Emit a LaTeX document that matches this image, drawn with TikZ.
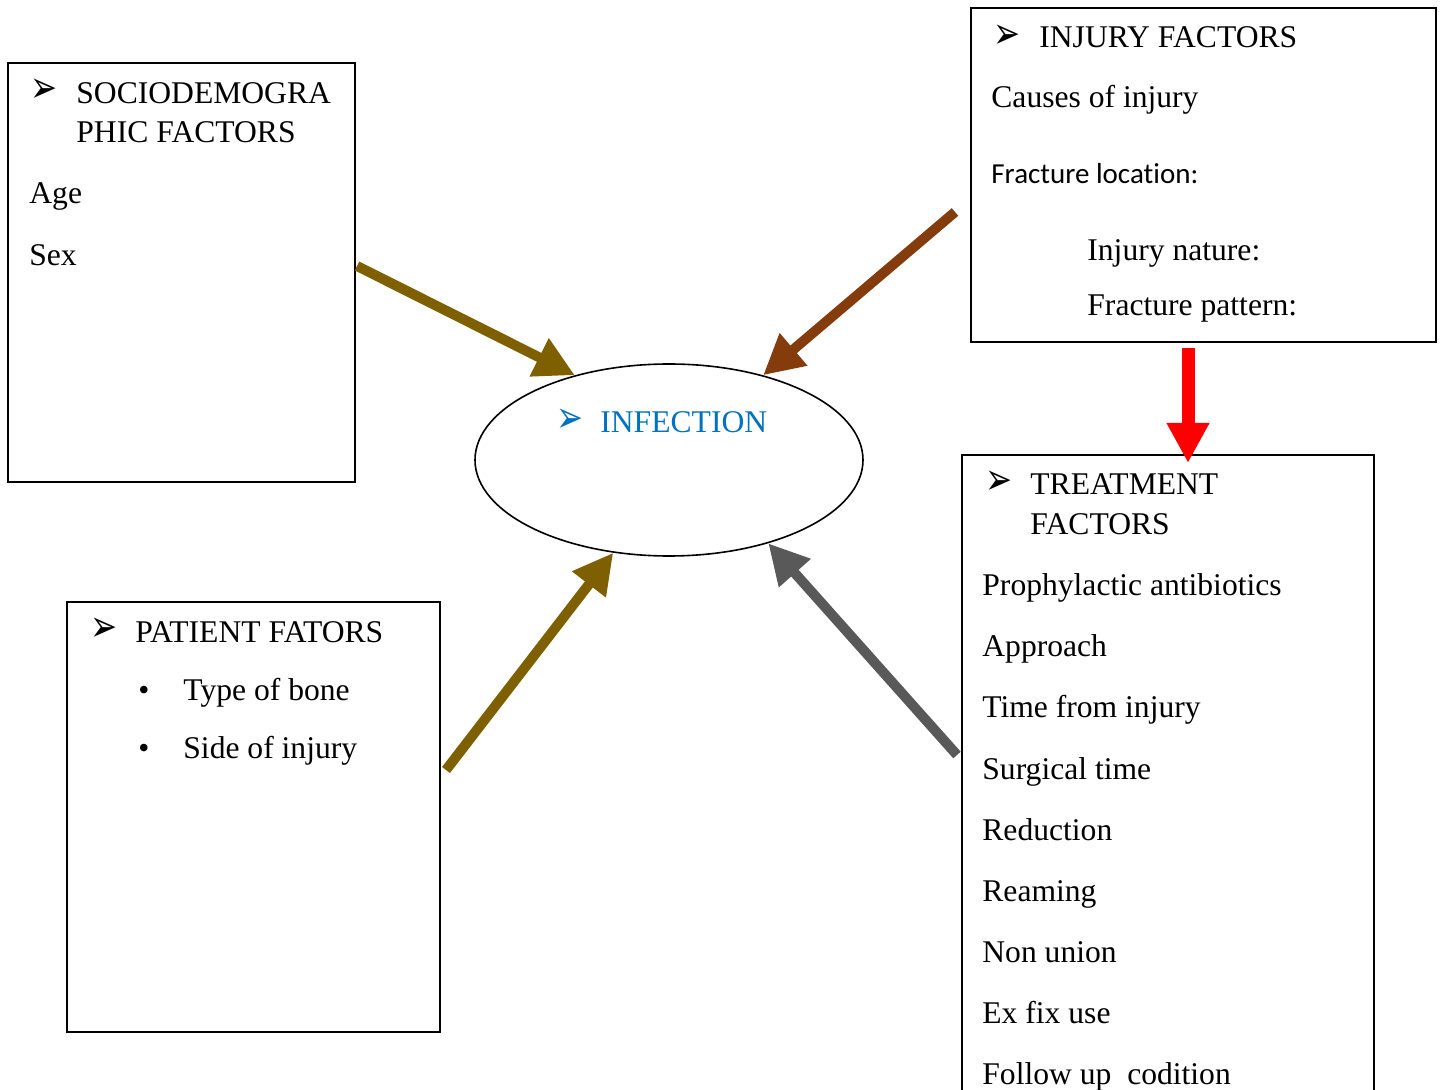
\documentclass[tikz,border=0pt]{standalone}
\usepackage{fontspec}
\setmainfont{Liberation Serif}
\newfontfamily\calibrifont{Carlito}[Ligatures=NoCommon]
\newfontfamily\dejavufont{DejaVu Sans}
\usetikzlibrary{arrows.meta, positioning, shapes.geometric}

\definecolor{goldarrow}{HTML}{7F6000}
\definecolor{rustarrow}{HTML}{843C0C}
\definecolor{greyarrow}{HTML}{595959}
\definecolor{infblue}{HTML}{0070C0}

\newcommand{\pointer}{\scalebox{0.95}[1.3]{\dejavufont\fontsize{17}{17}\selectfont ➢}}

\tikzset{
    factorbox/.style={draw, line width=1pt, rectangle, inner sep=0pt, outer sep=0pt, anchor=north west},
    txt/.style={anchor=base west, inner sep=0pt, font=\fontsize{15.8}{19}\selectfont},
    ptr/.style={anchor=west, inner sep=0pt},
    fatarrow/.style={line width=5pt, -{Triangle[length=20pt,width=20pt]}},
}

\begin{document}
\begin{tikzpicture}[x=0.5pt, y=-0.5pt]
    \clip (0,0) rectangle (1441,1090);
    \fill[white] (0,0) rectangle (1441,1090);

    % boxes
    \node[factorbox, minimum width=173.5pt, minimum height=209.5pt] (socio) at (8,63) {};
    \node[factorbox, minimum width=232.5pt, minimum height=167pt] (injury) at (971,8) {};
    \node[factorbox, minimum width=186.5pt, minimum height=215pt] (patient) at (67,602) {};
    \node[factorbox, minimum width=206pt, minimum height=330pt] (treat) at (962,455) {};
    \node[ellipse, draw, line width=0.8pt, minimum width=194pt, minimum height=96pt, inner sep=0pt] (infection) at (669,460) {};

    % sociodemographic
    \node[ptr] (sociop) at (30,91) {\pointer};
    \node[txt] (socio1) at (76,104) {SOCIODEMOGRA};
    \node[txt] (socio2) at (76,143) {PHIC FACTORS};
    \node[txt] (age) at (29,204) {Age};
    \node[txt] (sex) at (29,266) {Sex};

    % injury
    \node[ptr] (injuryp) at (993,37) {\pointer};
    \node[txt] (injury1) at (1039,48) {INJURY FACTORS};
    \node[txt] (causes) at (991,108) {Causes of injury};
    \node[txt, font=\calibrifont\fontsize{14.5}{17}\selectfont] (location) at (991,184) {Fracture location:};
    \node[txt] (nature) at (1087,261) {Injury nature:};
    \node[txt] (pattern) at (1087,316) {Fracture pattern:};

    % infection
    \node[ptr, text=infblue] (infp) at (556,421) {\pointer};
    \node[txt, text=infblue] (inftext) at (600,433) {INFECTION};

    % patient
    \node[ptr] (patientp) at (90,630) {\pointer};
    \node[txt] (patient1) at (135,643) {PATIENT FATORS};
    \node[txt] (dot1) at (138,701) {\textbullet};
    \node[txt] (bone) at (183,701) {Type of bone};
    \node[txt] (dot2) at (138,758) {\textbullet};
    \node[txt] (side) at (183,758) {Side of injury};

    % treatment
    \node[ptr] (treatp) at (985,483) {\pointer};
    \node[txt] (treat1) at (1030,495) {TREATMENT};
    \node[txt] (treat2) at (1030,535) {FACTORS};
    \foreach \item [count=\i] in {Prophylactic antibiotics, Approach, Time from injury,
        Surgical time, Reduction, Reaming, Non union, Ex fix use, Follow up\ \ codition}
        \node[txt] (treat-\i) at (982,{596+61*(\i-1)}) {\item};

    % arrows
    \draw[fatarrow, goldarrow] ([shift={(2,203)}]socio.north east) -- (infection.138);
    \draw[fatarrow, rustarrow] ([shift={(-16,204)}]injury.north west) -- (infection.42);
    \draw[fatarrow, goldarrow] ([shift={(6,168)}]patient.north east) -- (infection.239);
    \draw[fatarrow, greyarrow] ([shift={(-5,300)}]treat.north west) -- (infection.320);
    \draw[red, line width=6.5pt, -{Triangle[length=20pt,width=20pt]}]
        ([shift={(217,6)}]injury.south west) -- ([shift={(226,8)}]treat.north west);
\end{tikzpicture}
\end{document}
